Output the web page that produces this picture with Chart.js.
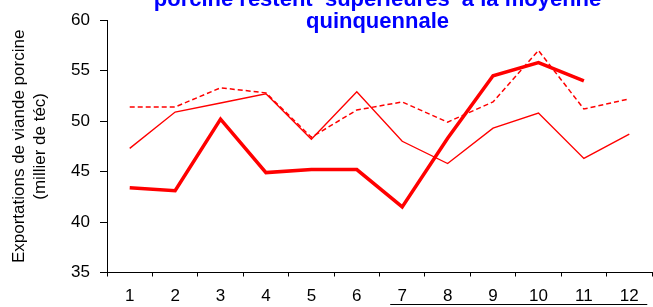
<!DOCTYPE html>
<html>
<head>
<meta charset="utf-8">
<script src="https://cdn.jsdelivr.net/npm/chart.js@4/dist/chart.umd.min.js"></script>
<style>
html,body{margin:0;padding:0;background:#fff;overflow:hidden;}
#wrap{position:relative;width:653px;height:307px;}
</style>
</head>
<body>
<div id="wrap"><canvas id="c" width="653" height="307"></canvas></div>
<script>
const months = ["1","2","3","4","5","6","7","8","9","10","11","12"];
const currentYear = [43.4, 43.1, 50.2, 44.9, 45.2, 45.2, 41.5, 48.3, 54.5, 55.8, 54.0, null];
const previousYear = [47.3, 50.9, 51.8, 52.7, 48.2, 52.9, 48.0, 45.8, 49.3, 50.8, 46.3, 48.7];
const fiveYearAvg = [51.4, 51.4, 53.3, 52.8, 48.4, 51.1, 51.9, 49.9, 51.9, 57.0, 51.2, 52.2];
const titleLines = ["porcine restent  supérieures  à la moyenne", "quinquennale"];
const yTitleLines = ["Exportations de viande porcine", "(millier de téc)"];
const yTicks = [35, 40, 45, 50, 55, 60];

const FONT = "'Liberation Sans', Arial, sans-serif";

const titlePlugin = {
  id: 'topTitle',
  afterDraw(chart) {
    const ctx = chart.ctx;
    const ca = chart.chartArea;
    const cx = (ca.left + ca.right) / 2 - 2;
    ctx.save();
    ctx.fillStyle = '#0000FF';
    ctx.font = "bold 22px " + FONT;
    ctx.textAlign = 'center';
    ctx.textBaseline = 'alphabetic';
    ctx.fillText(titleLines[0], cx, 6);
    ctx.fillText(titleLines[1], cx, 28);
    // underline below the second half of the month labels
    const xs = chart.scales.x;
    const x0 = xs.getPixelForValue(6) - 12;
    const x1 = xs.getPixelForValue(11) + 18;
    ctx.strokeStyle = '#000';
    ctx.lineWidth = 1;
    ctx.beginPath();
    ctx.moveTo(x0, 304.5);
    ctx.lineTo(x1, 304.5);
    ctx.stroke();
    ctx.restore();
  }
};

new Chart(document.getElementById('c'), {
  type: 'line',
  data: {
    labels: months,
    datasets: [
      {
        label: 'Moyenne quinquennale',
        data: fiveYearAvg,
        borderColor: '#FF0000',
        borderWidth: 1.5,
        borderDash: [5, 3],
        pointRadius: 0,
        tension: 0,
        fill: false
      },
      {
        label: 'Année précédente',
        data: previousYear,
        borderColor: '#FF0000',
        borderWidth: 1.4,
        pointRadius: 0,
        tension: 0,
        fill: false
      },
      {
        label: 'Année en cours',
        data: currentYear,
        borderColor: '#FF0000',
        borderWidth: 3.5,
        pointRadius: 0,
        tension: 0,
        fill: false,
        spanGaps: false
      }
    ]
  },
  options: {
    responsive: false,
    animation: false,
    devicePixelRatio: 1,
    layout: { padding: { left: 0, top: 20, right: 1, bottom: 0 } },
    plugins: {
      legend: { display: false },
      title: { display: false },
      tooltip: { enabled: false }
    },
    scales: {
      x: {
        type: 'category',
        offset: true,
        afterFit(s) { s.height = 34.5; },
        grid: {
          offset: true,
          drawOnChartArea: false,
          drawTicks: true,
          tickLength: 4,
          color: '#000',
          lineWidth: 1
        },
        border: { display: true, color: '#000', width: 1 },
        ticks: {
          color: '#000',
          font: { family: FONT, size: 17 },
          padding: 10,
          maxRotation: 0,
          autoSkip: false
        }
      },
      y: {
        min: 35,
        max: 60,
        afterFit(s) { s.width = 107; },
        afterBuildTicks(s) { s.ticks = yTicks.map(v => ({ value: v })); },
        grid: {
          drawOnChartArea: false,
          drawTicks: true,
          tickLength: 7,
          color: '#000',
          lineWidth: 1
        },
        border: { display: true, color: '#000', width: 1 },
        ticks: {
          color: '#000',
          font: { family: FONT, size: 17 },
          padding: 10
        },
        title: {
          display: true,
          text: yTitleLines,
          color: '#000',
          font: { family: FONT, size: 17, lineHeight: 1.24 },
          padding: { top: 9, bottom: 0 }
        }
      }
    }
  },
  plugins: [titlePlugin]
});
</script>
</body>
</html>
